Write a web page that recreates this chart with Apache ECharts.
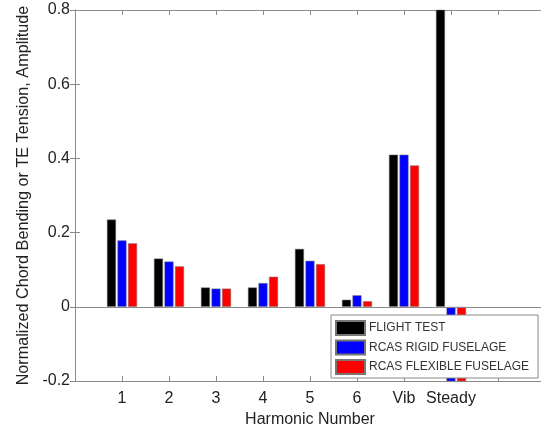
<!DOCTYPE html>
<html>
<head>
<meta charset="utf-8">
<script src="https://cdn.jsdelivr.net/npm/echarts@6/dist/echarts.min.js"></script>
<style>
  html, body { margin: 0; padding: 0; background: #fff; }
  #chart { width: 541px; height: 426px; }
</style>
</head>
<body>
<div id="chart"></div>
<script>
// Harmonic positions on the x axis and their tick labels
const positions = [1, 2, 3, 4, 5, 6, 7, 8];
const tickLabels = ['', '1', '2', '3', '4', '5', '6', 'Vib', 'Steady', '', ''];

// Normalized amplitudes per harmonic
const flightTest = [0.235, 0.130, 0.052, 0.052, 0.156, 0.019, 0.410, 0.85];
const rcasRigid = [0.179, 0.122, 0.049, 0.064, 0.124, 0.031, 0.410, -0.25];
const rcasFlexible = [0.171, 0.109, 0.049, 0.081, 0.115, 0.015, 0.381, -0.25];

const seriesNames = ['FLIGHT TEST', 'RCAS RIGID FUSELAGE', 'RCAS FLEXIBLE FUSELAGE'];
const seriesColors = ['#000000', '#0000ff', '#ff0000'];
const seriesValues = [flightTest, rcasRigid, rcasFlexible];

const font = 'Liberation Sans, Arial, sans-serif';
const axisGray = '#8a8a8a';
const textColor = '#222';

const chart = echarts.init(document.getElementById('chart'), null, { renderer: 'canvas' });

const series = seriesValues.map((vals, i) => ({
  name: seriesNames[i],
  type: 'bar',
  xAxisIndex: 0,
  yAxisIndex: 0,
  data: positions.map((p, k) => [p, vals[k]]),
  barWidth: 9,
  barGap: '17%',
  clip: true,
  itemStyle: { color: seriesColors[i], borderColor: '#777', borderWidth: 0.5 },
  emphasis: { disabled: true },
  markLine: i === 0 ? {
    silent: true,
    symbol: 'none',
    label: { show: false },
    lineStyle: { color: axisGray, width: 1, type: 'solid' },
    data: [{ yAxis: 0 }]
  } : undefined
}));

chart.setOption({
  animation: false,
  backgroundColor: '#fff',
  // the axis box runs a few pixels past the right edge of the page
  grid: { left: 75, top: 10, right: -4, bottom: 45, show: false, outerBoundsMode: 'none', containLabel: false },
  legend: {
    orient: 'vertical',
    left: 331, top: 315,
    icon: 'rect',
    itemWidth: 29, itemHeight: 14, itemGap: 3.5,
    padding: [5, 9, 3, 4],
    backgroundColor: '#fff',
    borderColor: axisGray, borderWidth: 1,
    selectedMode: false,
    textStyle: { fontFamily: font, fontSize: 12, color: '#333', lineHeight: 14, padding: [0, 0, 0, -1] },
    data: seriesNames,
    z: 10
  },
  xAxis: [{
    type: 'value', min: 0, max: 10, interval: 1,
    position: 'bottom',
    name: 'Harmonic Number', nameLocation: 'middle', nameGap: 27,
    nameTextStyle: { fontFamily: font, fontSize: 16, color: textColor },
    axisLine: { show: true, onZero: false, lineStyle: { color: axisGray } },
    axisTick: { show: true, inside: true, length: 5, lineStyle: { color: axisGray } },
    axisLabel: {
      fontFamily: font, fontSize: 16, color: textColor, margin: 10,
      formatter: v => tickLabels[Math.round(v)] || ''
    },
    splitLine: { show: false }
  }, {
    type: 'value', min: 0, max: 10, interval: 1,
    position: 'top',
    axisLine: { show: true, onZero: false, lineStyle: { color: axisGray } },
    axisTick: { show: true, inside: true, length: 5, lineStyle: { color: axisGray } },
    axisLabel: { show: false },
    splitLine: { show: false }
  }],
  yAxis: [{
    type: 'value', min: -0.2, max: 0.8, interval: 0.2,
    position: 'left',
    name: 'Normalized Chord Bending or TE Tension, Amplitude',
    nameLocation: 'middle', nameGap: 30,
    nameTextStyle: { fontFamily: font, fontSize: 16.2, color: textColor },
    axisLine: { show: true, onZero: false, lineStyle: { color: axisGray } },
    axisTick: { show: true, inside: true, length: 5, lineStyle: { color: axisGray } },
    axisLabel: {
      fontFamily: font, fontSize: 16, color: textColor, margin: 5,
      formatter: v => {
        const r = Math.round(v * 10) / 10;
        return r === 0 ? '0' : r.toFixed(1);
      }
    },
    splitLine: { show: false }
  }, {
    type: 'value', min: -0.2, max: 0.8, interval: 0.2,
    position: 'right',
    axisLine: { show: true, lineStyle: { color: axisGray } },
    axisTick: { show: true, inside: true, length: 5, lineStyle: { color: axisGray } },
    axisLabel: { show: false },
    splitLine: { show: false }
  }],
  series: series
});
</script>
</body>
</html>
